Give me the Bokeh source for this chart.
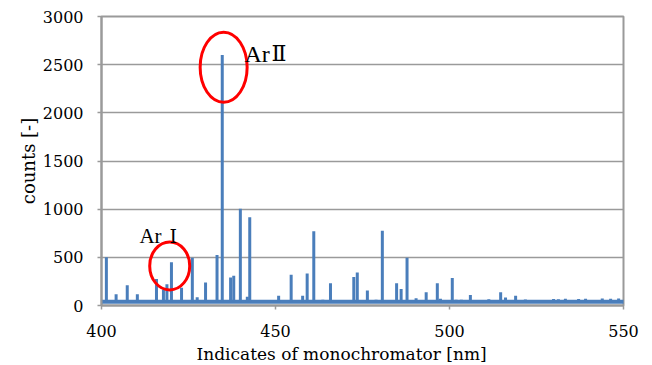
from bokeh.plotting import figure
from bokeh.models import Range1d, SingleIntervalTicker, Label, Title
from bokeh.embed import file_html
from bokeh.resources import INLINE

# Emission lines [nm] and their peak counts
peak_nm = [401.4, 404.2, 407.4, 410.3, 415.8, 417.8, 418.8, 420.1, 423.0, 426.1,
           427.5, 429.9, 433.2, 434.7, 437.1, 438.0, 439.9, 441.9, 442.6, 450.9,
           454.5, 457.8, 459.1, 461.0, 463.6, 465.8, 472.5, 473.5, 476.4, 478.9,
           480.7, 484.8, 486.1, 487.8, 490.4, 493.3, 496.5, 497.4, 500.8, 501.9,
           503.4, 506.0, 511.3, 514.7, 516.1, 519.0, 521.8, 529.9, 531.3, 533.3,
           537.1, 539.1, 543.9, 546.3, 548.6]
peak_counts = [500, 118, 210, 118, 275, 165, 220, 450, 185, 495,
               85, 240, 525, 2600, 290, 310, 1005, 90, 915, 100,
               320, 100, 333, 770, 60, 232, 295, 343, 156, 60,
               777, 232, 170, 495, 75, 138, 232, 70, 285, 60,
               60, 110, 65, 138, 83, 100, 62, 68, 66, 70,
               68, 70, 72, 70, 72]

# Continuum level between the lines
baseline_nm = [400.0, 551.0]
baseline_counts = [40, 40]

x_ticks_step = 50
y_ticks_step = 500

serif = "DejaVu Serif"
grid_grey = "#9a9a9a"
line_blue = "#4a7ebb"

p = figure(width=652, height=365, output_backend="svg", toolbar_location=None,
           x_range=Range1d(400, 550), y_range=Range1d(0, 3000))
p.min_border_left = 101
p.min_border_right = 29
p.min_border_top = 16
p.min_border_bottom = 0
p.background_fill_color = "white"
p.border_fill_color = "white"
p.outline_line_color = grid_grey
p.outline_line_width = 2

# axes
p.xaxis.ticker = SingleIntervalTicker(interval=x_ticks_step)
p.yaxis.ticker = SingleIntervalTicker(interval=y_ticks_step)
for ax in (p.xaxis[0], p.yaxis[0]):
    ax.axis_line_color = grid_grey
    ax.axis_line_width = 2
    ax.major_tick_line_color = grid_grey
    ax.major_tick_line_width = 1.5
    ax.major_tick_in = 0
    ax.major_tick_out = 4
    ax.minor_tick_line_color = None
    ax.major_label_text_font = serif
    ax.major_label_text_font_size = "16px"
    ax.major_label_text_color = "black"
    ax.axis_label_text_font = serif
    ax.axis_label_text_font_style = "normal"
    ax.axis_label_text_color = "black"
p.xaxis.major_label_standoff = 15
p.yaxis.major_label_standoff = 14
p.yaxis.axis_label = "counts [-]"
p.yaxis.axis_label_text_font_size = "18px"
p.yaxis.axis_label_standoff = 1

p.xgrid.grid_line_color = None
p.ygrid.grid_line_color = grid_grey
p.ygrid.grid_line_width = 1.5

# x axis title, set a little left of the frame centre
p.add_layout(Title(text="Indicates of monochromator [nm]", align="left", offset=95,
                   text_font=serif, text_font_size="17px", text_font_style="normal",
                   text_color="black", standoff=4), "below")

# spectrum: continuum plus the emission lines
p.line(baseline_nm, baseline_counts, line_color=line_blue, line_width=4)
p.segment(x0=peak_nm, y0=[baseline_counts[0]] * len(peak_nm),
          x1=peak_nm, y1=peak_counts, line_color=line_blue, line_width=3)

# highlighted lines
p.ellipse(x=[435.1, 419.6], y=[2473, 411], width=[47, 40], height=[70, 48],
          width_units="screen", height_units="screen",
          fill_alpha=0, line_color="red", line_width=3)

p.add_layout(Label(x=441.1, y=2615, text="Ar", text_font="Liberation Serif",
                   text_font_size="24px", text_color="black",
                   text_baseline="alphabetic", text_align="left"))
p.add_layout(Label(x=441.1, y=2615, x_offset=27, text="Ⅱ", text_font=serif,
                   text_font_size="22px", text_color="black",
                   text_baseline="alphabetic", text_align="left"))
p.add_layout(Label(x=410.9, y=719, text="Ar", text_font="Liberation Serif",
                   text_font_size="21px", text_color="black",
                   text_baseline="alphabetic", text_align="left"))
p.add_layout(Label(x=410.9, y=719, x_offset=30, text="Ⅰ", text_font=serif,
                   text_font_size="19px", text_color="black",
                   text_baseline="alphabetic", text_align="left"))

open("out.html", "w").write(file_html(p, INLINE))
